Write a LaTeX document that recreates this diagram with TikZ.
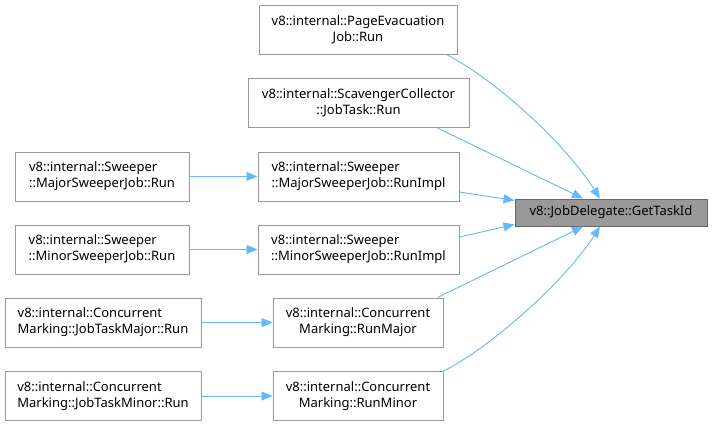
\documentclass[tikz,border=0pt]{standalone}
\usepackage{fontspec}
\setmainfont{Noto Sans}
\usetikzlibrary{arrows.meta}
\definecolor{edgeblue}{HTML}{63B8FF}
\definecolor{boxgray}{HTML}{999999}
\definecolor{tggray}{HTML}{666666}
\tikzset{
	fn/.style={draw=boxgray, line width=1pt, fill=white, inner sep=0pt, minimum height=49pt, align=center, font=\fontsize{13}{16}\selectfont},
	fnl/.style={fn, align=left},
	call/.style={draw=edgeblue, line width=0.9pt, -{Triangle[length=11pt,width=9pt]}},
}
\begin{document}
\begin{tikzpicture}[x=1pt, y=-1pt]
	\useasboundingbox (0,0) rectangle (714,426);
	% target
	\node[fn, fill=boxgray, draw=tggray, minimum width=192pt, minimum height=27pt] (tg) at (611,212.5) {v8::JobDelegate::GetTaskId};
	% direct callers
	\node[fn, minimum width=198pt] (pe) at (358,29.5) {v8::internal::PageEvacuation\\Job::Run};
	\node[fn, minimum width=221pt] (sc) at (358.5,103) {v8::internal::ScavengerCollector\\::JobTask::Run};
	\node[fnl, minimum width=201pt] (majimpl) at (358.5,176.5) {v8::internal::Sweeper\\::MajorSweeperJob::RunImpl};
	\node[fnl, minimum width=201pt] (minimpl) at (358.5,249.5) {v8::internal::Sweeper\\::MinorSweeperJob::RunImpl};
	\node[fn, minimum width=170pt] (runmaj) at (358,322.5) {v8::internal::Concurrent\\Marking::RunMajor};
	\node[fn, minimum width=170pt] (runmin) at (358,396) {v8::internal::Concurrent\\Marking::RunMinor};
	% second level
	\node[fnl, minimum width=174pt] (majjob) at (102,176.5) {v8::internal::Sweeper\\::MajorSweeperJob::Run};
	\node[fnl, minimum width=174pt] (minjob) at (102,249.5) {v8::internal::Sweeper\\::MinorSweeperJob::Run};
	\node[fnl, minimum width=196pt] (jtmaj) at (103,322.5) {v8::internal::Concurrent\\Marking::JobTaskMajor::Run};
	\node[fnl, minimum width=196pt] (jtmin) at (103,396) {v8::internal::Concurrent\\Marking::JobTaskMinor::Run};
	% calls into the target
	\draw[call] ([xshift=-11pt]pe.south east) .. controls +(50,26) and +(-35,-55) .. ([xshift=-11pt]tg.north);
	\draw[call] ([xshift=-32pt]sc.south east) -- ([xshift=-28pt]tg.north);
	\draw[call] ([yshift=-15.5pt]majimpl.east) -- ([yshift=12pt]tg.west);
	\draw[call] ([yshift=12.5pt]minimpl.east) -- ([yshift=-12pt]tg.west);
	\draw[call] ([xshift=-6pt]runmaj.north east) -- ([xshift=-28pt]tg.south);
	\draw[call] (runmin.north east) .. controls +(45,-22) and +(-35,55) .. ([xshift=-11pt]tg.south);
	% calls one level out
	\draw[call] (majjob) -- (majimpl);
	\draw[call] (minjob) -- (minimpl);
	\draw[call] (jtmaj) -- (runmaj);
	\draw[call] (jtmin) -- (runmin);
\end{tikzpicture}
\end{document}
